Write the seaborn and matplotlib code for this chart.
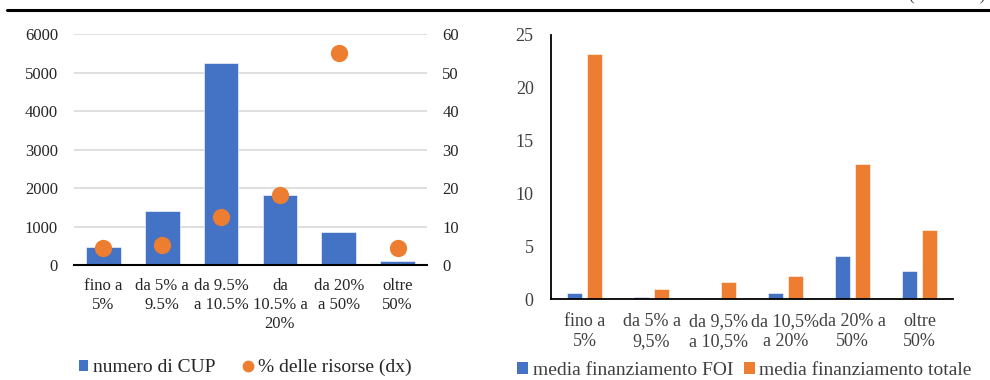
import matplotlib
matplotlib.use("Agg")
import matplotlib.pyplot as plt
import seaborn as sns
import pandas as pd
from matplotlib.lines import Line2D
from matplotlib.patches import Patch

# ---- data -------------------------------------------------------------
classi_sx = ["fino a\n5%", "da 5% a\n9.5%", "da 9.5%\na 10.5%",
             "da\n10.5% a\n20%", "da 20%\na 50%", "oltre\n50%"]
numero_cup = [480, 1400, 5250, 1820, 860, 100]
quota_risorse = [4.3, 5.1, 12.6, 18.2, 55.1, 4.3]

classi_dx = ["fino a\n5%", "da 5% a\n9,5%", "da 9,5%\na 10,5%",
             "da 10,5%\na 20%", "da 20% a\n50%", "oltre\n50%"]
media_foi = [0.57, 0.22, 0.12, 0.62, 4.09, 2.70]
media_totale = [23.2, 0.97, 1.64, 2.17, 12.75, 6.57]

BLUE = "#4472C4"
ORANGE = "#ED7D31"
TXT = "#262626"

sns.set_theme(style="white")
plt.rcParams["font.family"] = ["Liberation Serif", "DejaVu Serif"]
plt.rcParams["font.size"] = 12

fig = plt.figure(figsize=(9.9, 3.8), dpi=100)

# ---- left panel: number of CUP and share of resources -----------------
df_sx = pd.DataFrame({"classe": classi_sx, "cup": numero_cup, "quota": quota_risorse})
ax1 = fig.add_axes([0.0747, 0.3026, 0.3566, 0.607])
sns.barplot(data=df_sx, x="classe", y="cup", color=BLUE, width=0.59,
            saturation=1, ax=ax1, zorder=3, edgecolor="white", linewidth=0.4)
ax1.set_xlim(-0.5, 5.5)
ax1.set_ylim(0, 6000)
ax1.set_yticks(range(0, 6001, 1000))
ax1.yaxis.grid(True, color="#D9D9D9", linewidth=1.2, zorder=0)
ax1.set_axisbelow(True)
for s in ["left", "right", "top"]:
    ax1.spines[s].set_visible(False)
ax1.spines["bottom"].set_color("black")
ax1.spines["bottom"].set_linewidth(1.5)
ax1.spines["bottom"].set_zorder(4)
ax1.tick_params(axis="both", length=0, labelsize=12, colors=TXT)
ax1.tick_params(axis="y", pad=11.5)
ax1.tick_params(axis="x", pad=9.5)
ax1.set_xlabel("")
ax1.set_ylabel("")
for lab in ax1.get_xticklabels():
    lab.set_linespacing(1.25)
    lab.set_verticalalignment("top")

ax1b = ax1.twinx()
sns.scatterplot(data=df_sx, x="classe", y="quota", color=ORANGE, s=155,
                linewidth=0, ax=ax1b, zorder=5, legend=False)
ax1b.set_ylim(0, 60)
ax1b.set_yticks(range(0, 61, 10))
for s in ["left", "right", "top", "bottom"]:
    ax1b.spines[s].set_visible(False)
ax1b.tick_params(axis="y", length=0, labelsize=12, colors=TXT, pad=11)
ax1b.set_ylabel("")
ax1b.set_xlim(-0.5, 5.5)

h1 = [Patch(facecolor=BLUE, edgecolor="none"),
      Line2D([], [], marker="o", color="none", markerfacecolor=ORANGE,
             markeredgecolor="none", markersize=8.5)]
fig.legend(h1, ["numero di CUP", "% delle risorse (dx)"], loc="center",
           bbox_to_anchor=(0.2475, 0.032), ncol=2, frameon=False, fontsize=14,
           handlelength=0.5, handleheight=0.5, handletextpad=0.25,
           columnspacing=1.4, labelcolor=TXT)

# ---- right panel: average funding --------------------------------------
df_dx = pd.DataFrame({
    "classe": classi_dx * 2,
    "valore": media_foi + media_totale,
    "serie": ["media finanziamento FOI"] * 6 + ["media finanziamento totale"] * 6,
})
ax2 = fig.add_axes([0.5566, 0.2124, 0.406, 0.6963])
sns.barplot(data=df_dx, x="classe", y="valore", hue="serie",
            palette=[BLUE, ORANGE], width=0.576, gap=0.22, saturation=1,
            ax=ax2, legend=False, edgecolor="white", linewidth=0.4)
ax2.set_xlim(-0.5, 5.5)
ax2.set_ylim(0, 25)
ax2.set_yticks(range(0, 26, 5))
for s in ["right", "top"]:
    ax2.spines[s].set_visible(False)
for s in ["left", "bottom"]:
    ax2.spines[s].set_color("black")
    ax2.spines[s].set_linewidth(1.3)
ax2.tick_params(axis="y", length=5, width=1.2, color="black", direction="out",
                labelsize=13, labelcolor="#404040", pad=7.5)
ax2.tick_params(axis="x", length=0, labelsize=13, labelcolor="#404040", pad=10)
ax2.set_xlabel("")
ax2.set_ylabel("")
for lab in ax2.get_xticklabels():
    lab.set_linespacing(1.2)

h2 = [Patch(facecolor=BLUE, edgecolor="none"),
      Patch(facecolor=ORANGE, edgecolor="none")]
fig.legend(h2, ["media finanziamento FOI", "media finanziamento totale"],
           loc="center", bbox_to_anchor=(0.752, 0.026), ncol=2, frameon=False,
           fontsize=14, handlelength=0.55, handleheight=0.55, handletextpad=0.25,
           columnspacing=0.55, labelcolor="#404040")

# ---- header rule and unit note -----------------------------------------
fig.add_artist(Line2D([0.007, 1.0], [0.973, 0.973], color="black",
                      linewidth=2.2, transform=fig.transFigure))
fig.text(0.995, 1.012, "(in milioni)", ha="right", va="center",
         fontsize=12, color="#404040")

fig.savefig("out.png", dpi=100, facecolor="white")
